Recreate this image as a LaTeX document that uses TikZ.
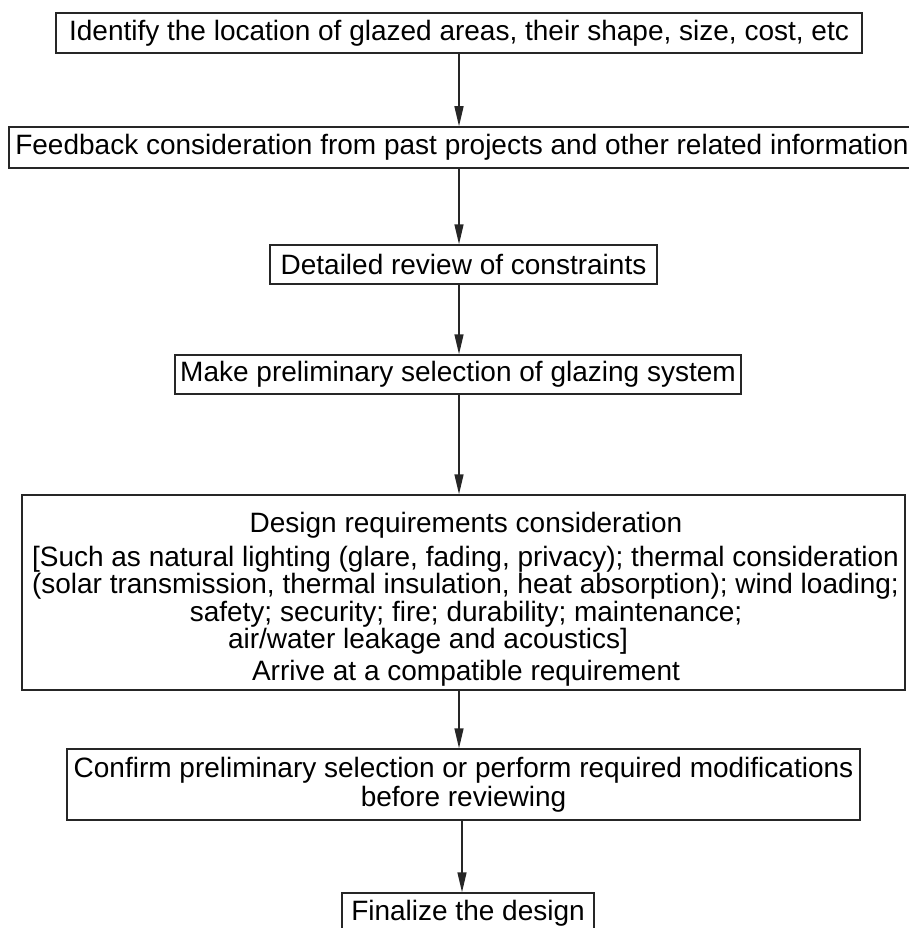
\documentclass[tikz,border=0pt]{standalone}
\usepackage{fontspec}
\setmainfont{Liberation Sans}
\usetikzlibrary{arrows.meta}
\begin{document}
\begin{tikzpicture}[x=1pt,y=-1pt,
  every node/.style={font=\fontsize{28}{29}\selectfont, inner sep=0pt},
  box/.style={draw=black!85, line width=1.5pt, align=center},
  txt/.style={anchor=base},
  arr/.style={draw=black!85, line width=1.5pt, -{Triangle[length=20pt,width=9pt]}}]
\useasboundingbox (0,0) rectangle (909,928);
\node[box, minimum width=806pt, minimum height=40pt] (b1) at (459,33) {Identify the location of glazed areas, their shape, size, cost, etc};
\node[box, minimum width=906pt, minimum height=41pt] (b2) at (462,147.5) {Feedback consideration from past projects and other related information};
\node[box, minimum width=387pt, minimum height=39pt] (b3) at (463.5,264.5) {Detailed review of constraints};
\node[box, minimum width=566pt, minimum height=39pt] (b4) at (458,374.5) {Make preliminary selection of glazing system};
\node[box, minimum width=883pt, minimum height=195pt] (b5) at (463.5,592.5) {};
\node[txt] (t1) at (466,532) {Design requirements consideration};
\node[txt] (t2) at (465.5,566) {[Such as natural lighting (glare, fading, privacy); thermal consideration};
\node[txt] (t3) at (465.5,593.5) {(solar transmission, thermal insulation, heat absorption); wind loading;};
\node[txt] (t4) at (466,621) {safety; security; fire; durability; maintenance;};
\node[txt] (t5) at (428,648.5) {air/water leakage and acoustics]};
\node[txt] (t6) at (466,680) {Arrive at a compatible requirement};
\node[box, minimum width=793pt, minimum height=71pt] (b6) at (463.5,784.5) {Confirm preliminary selection or perform required modifications\\before reviewing};
\node[box, minimum width=252pt, minimum height=40pt] (b7) at (468,913) {Finalize the design};
\coordinate (ax) at (459,0);
\coordinate (bx) at (462,0);
\draw[arr] (b1.south -| ax) -- (b2.north -| ax);
\draw[arr] (b2.south -| ax) -- (b3.north -| ax);
\draw[arr] (b3.south -| ax) -- (b4.north -| ax);
\draw[arr] (b4.south -| ax) -- (b5.north -| ax);
\draw[arr] (b5.south -| ax) -- (b6.north -| ax);
\draw[arr] (b6.south -| bx) -- (b7.north -| bx);
\end{tikzpicture}
\end{document}
